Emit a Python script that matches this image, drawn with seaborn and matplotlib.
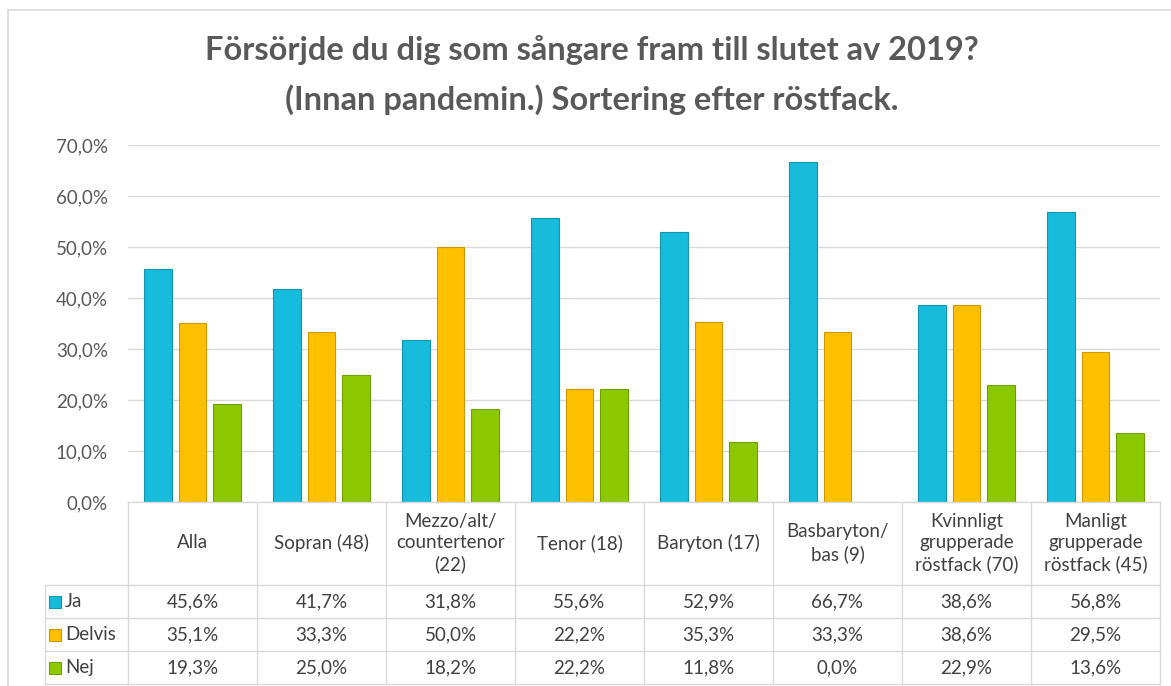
import matplotlib
matplotlib.use('Agg')
import matplotlib.pyplot as plt
import matplotlib.transforms as mtransforms
from matplotlib.colors import to_rgb
import pandas as pd
import seaborn as sns

kategorier = ['Alla', 'Sopran (48)', 'Mezzo/alt/\ncountertenor\n(22)', 'Tenor (18)',
              'Baryton (17)', 'Basbaryton/\nbas (9)', 'Kvinnligt\ngrupperade\nröstfack (70)',
              'Manligt\ngrupperade\nröstfack (45)']
svar = ['Ja', 'Delvis', 'Nej']
ja = [45.6, 41.7, 31.8, 55.6, 52.9, 66.7, 38.6, 56.8]
delvis = [35.1, 33.3, 50.0, 22.2, 35.3, 33.3, 38.6, 29.5]
nej = [19.3, 25.0, 18.2, 22.2, 11.8, 0.0, 22.9, 13.6]
farger = ['#17BBDB', '#FFC000', '#8CC800']

y_ticks = [0, 10, 20, 30, 40, 50, 60, 70]

# Long-format table for seaborn
df = pd.DataFrame({
    'kategori': kategorier * 3,
    'svar': ['Ja'] * 8 + ['Delvis'] * 8 + ['Nej'] * 8,
    'andel': ja + delvis + nej,
})

def fmt(v):
    return f'{v:.1f}'.replace('.', ',') + '%'

sns.set_theme(style='white')
plt.rcParams['font.family'] = ['Lato', 'DejaVu Sans']

W, H = 1171, 686
fig = plt.figure(figsize=(W / 100, H / 100), dpi=100)
fig.patch.set_facecolor('white')

def fx(px):
    return px / W

def fy(py):
    return 1 - py / H

# outer chart border (only top/left visible)
fig.add_artist(plt.Rectangle((fx(8), fy(1000)), 2, fy(10) - fy(1000),
                             transform=fig.transFigure, fill=False,
                             edgecolor='#D9D9D9', lw=1.2))

ax_left, ax_right, ax_top, ax_bottom = 128, 1160, 145, 502
ax = fig.add_axes([fx(ax_left), fy(ax_bottom), fx(ax_right - ax_left), fy(ax_top) - fy(ax_bottom)])

sns.barplot(data=df, x='kategori', y='andel', hue='svar', hue_order=svar,
            palette=farger, saturation=1, width=0.8, gap=0.2, legend=False, ax=ax)

for p in ax.patches:
    r, g, b = to_rgb(p.get_facecolor())
    p.set_edgecolor((r * 0.8, g * 0.8, b * 0.8))
    p.set_linewidth(0.8 if p.get_height() > 0 else 0)

ax.set_xlim(-0.5, 7.5)
ax.set_ylim(0, 70)
ax.set_yticks(y_ticks)
ax.set_yticklabels([fmt(v) for v in y_ticks], fontsize=13.5, color='#595959')
ax.tick_params(axis='y', length=0, pad=14.5)
ax.set_xticks([])
ax.set_xlabel('')
ax.set_ylabel('')
ax.yaxis.grid(True, color='#D9D9D9', lw=1)
ax.set_axisbelow(True)
for s in ['top', 'right', 'left']:
    ax.spines[s].set_visible(False)
ax.spines['bottom'].set_color('#D9D9D9')
ax.spines['bottom'].set_linewidth(1)

# Title
fig.text(fx(592), fy(50), 'Försörjde du dig som sångare fram till slutet av 2019?',
         ha='center', va='center', fontsize=23.5, fontweight='bold', color='#595959')
fig.text(fx(592), fy(100), '(Innan pandemin.) Sortering efter röstfack.',
         ha='center', va='center', fontsize=23.5, fontweight='bold', color='#595959')

# Data table under the axis
lc = '#D9D9D9'
trans = mtransforms.blended_transform_factory(ax.transData, fig.transFigure)
row_lines = [585, 618, 651, 684]
tbl_left = 45
for yl in row_lines:
    ax.plot([fx(tbl_left), fx(ax_right)], [fy(yl), fy(yl)], color=lc, lw=1,
            transform=fig.transFigure, clip_on=False)
ax.plot([fx(tbl_left), fx(tbl_left)], [fy(585), fy(684)], color=lc, lw=1,
        transform=fig.transFigure, clip_on=False)
for i in range(len(kategorier) + 1):
    xb = i - 0.5
    ax.plot([xb, xb], [fy(ax_bottom), fy(684)], color=lc, lw=1,
            transform=trans, clip_on=False)

tc = '#404040'
for i, kat in enumerate(kategorier):
    ax.text(i, fy(543), kat, ha='center', va='center', fontsize=13.5,
            color=tc, transform=trans, linespacing=1.3)

row_centers = [601.5, 634.5, 667.5]
for serie, vals, col, yc in zip(svar, [ja, delvis, nej], farger, row_centers):
    for i, v in enumerate(vals):
        ax.text(i, fy(yc), fmt(v), ha='center', va='center', fontsize=13.5,
                color=tc, transform=trans)
    r, g, b = to_rgb(col)
    ax.plot([fx(55)], [fy(yc)], marker='s', markersize=8, color=col,
            markeredgecolor=(r * 0.8, g * 0.8, b * 0.8), markeredgewidth=0.8,
            transform=fig.transFigure, clip_on=False)
    ax.text(fx(65), fy(yc), serie, ha='left', va='center', fontsize=13.5,
            color=tc, transform=fig.transFigure)

fig.savefig('out.png', dpi=100)
